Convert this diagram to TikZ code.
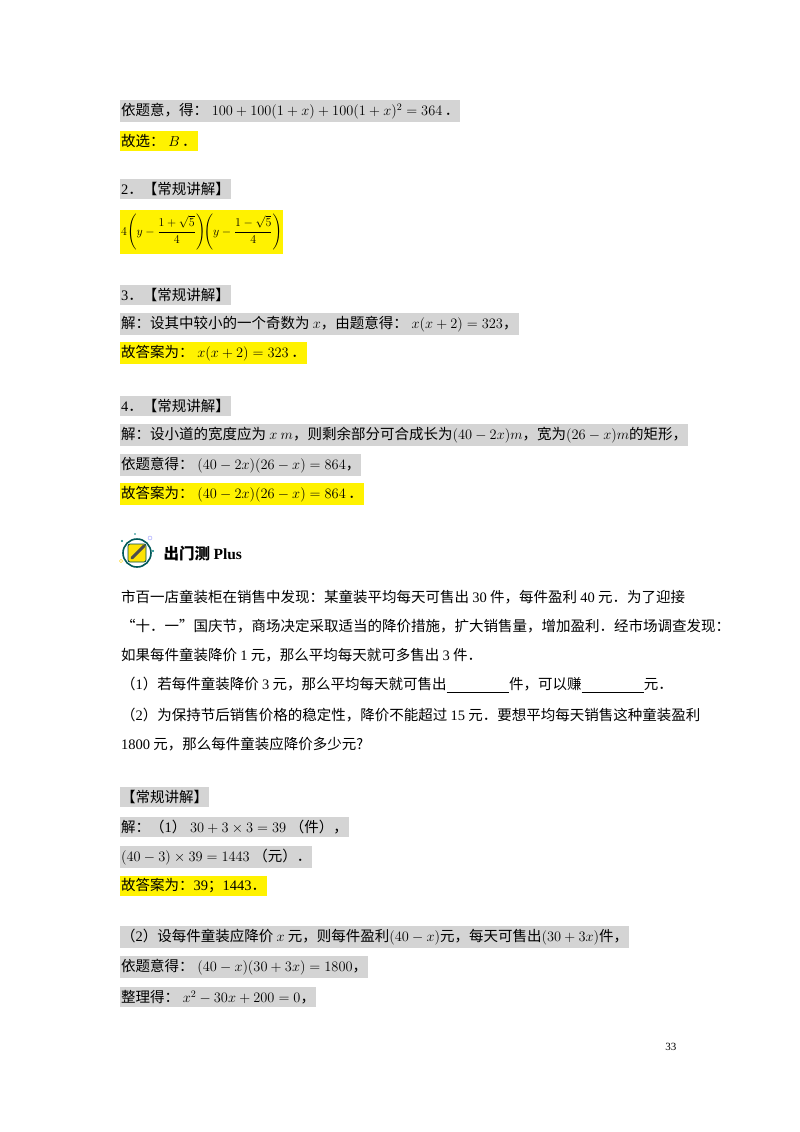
\documentclass[tikz,border=0pt]{standalone}
\usepackage{amsmath}
\usepackage{fontspec}
\usetikzlibrary{calc}
\setmainfont{Noto Sans CJK SC}
\newfontfamily\tm{Liberation Serif}
\newcommand{\n}[1]{{\tm #1}}
\begin{document}
\begin{tikzpicture}[x=1pt,y=-1pt,
  every node/.style={font=\fontsize{14.5}{17}\selectfont},
  tline/.style={anchor=west,inner xsep=1pt,inner ysep=3pt},
  grayb/.style={tline,fill=black!17},
  yelb/.style={tline,fill=yellow}]
\useasboundingbox[fill=white] (0,0) rectangle (800,1132);
\node[grayb] (l1) at (120,111) {依题意，得：\n{ }$100+100(1+x)+100(1+x)^2=364$\,．};
\node[yelb] (l2) at (120,141) {故选：\n{ }$B$\,．};
\node[grayb] (l3) at (120,189) {\n{2}．【常规讲解】};
\node[yelb,inner ysep=4pt,font=\fontsize{12.5}{15}\selectfont] (l4) at (120,232) {$4\!\left(y-\dfrac{1+\sqrt5}{4}\right)\!\!\left(y-\dfrac{1-\sqrt5}{4}\right)$};
\node[grayb] (l5) at (120,295) {\n{3}．【常规讲解】};
\node[grayb] (l6) at (120,324) {解：设其中较小的一个奇数为 $x$，由题意得：\n{ }$x(x+2)=323$，};
\node[yelb] (l7) at (120,353) {故答案为：\n{ }$x(x+2)=323$\,．};
\node[grayb] (l8) at (120,406) {\n{4}．【常规讲解】};
\node[grayb] (l9) at (120,435) {解：设小道的宽度应为 $x\ m$，则剩余部分可合成长为$(40-2x)m$，宽为$(26-x)m$的矩形，};
\node[grayb] (l10) at (120,465) {依题意得：\n{ }$(40-2x)(26-x)=864$，};
\node[yelb] (l11) at (120,494) {故答案为：\n{ }$(40-2x)(26-x)=864$\,．};
% icon
\coordinate (ic) at (137,553);
\draw[teal!70!black,line width=1.6pt] (ic) circle (14);
\draw[fill=yellow!85!orange,draw=teal!60!black,line width=0.8pt,rounded corners=2pt] ($(ic)+(-9,-9)$) rectangle ($(ic)+(9,9)$);
\draw[line width=3pt,black!70,line cap=round] ($(ic)+(-5,5)$) -- ($(ic)+(7,-7)$);
\fill[teal] ($(ic)+(-15,-12)$) circle (1.2) ($(ic)+(16,-2)$) circle (1.2) ($(ic)+(-2,-19)$) circle (0.9);
\draw[blue!40] ($(ic)+(13,-15)$) circle (2);
\draw[yellow!70!orange] ($(ic)+(-16,8)$) circle (1.6);
\node[anchor=west,font=\fontsize{15.5}{18}\selectfont\bfseries] (hd) at (160,554) {出门测 \n{\bfseries Plus}};
\node[tline] (p1) at (120,597) {市百一店童装柜在销售中发现：某童装平均每天可售出 \n{30} 件，每件盈利 \n{40} 元．为了迎接};
\node[tline] (p2) at (120,626) {“十．一”国庆节，商场决定采取适当的降价措施，扩大销售量，增加盈利．经市场调查发现：};
\node[tline] (p3) at (120,655) {如果每件童装降价 \n{1} 元，那么平均每天就可多售出 \n{3} 件．};
\node[tline] (p4) at (120,685) {（\n{1}）若每件童装降价 \n{3} 元，那么平均每天就可售出\underline{\hspace{4.3em}}件，可以赚\underline{\hspace{4.3em}}元．};
\node[tline] (p5) at (120,715) {（\n{2}）为保持节后销售价格的稳定性，降价不能超过 \n{15} 元．要想平均每天销售这种童装盈利};
\node[tline] (p6) at (120,744) {\n{1800} 元，那么每件童装应降价多少元?};
\node[grayb] (s1) at (120,797) {【常规讲解】};
\node[grayb] (s2) at (120,827) {解：（\n{1}）\n{ }$30+3\times3=39$\n{ }（件），};
\node[grayb] (s3) at (120,857) {$(40-3)\times39=1443$\n{ }（元）．};
\node[yelb] (s4) at (120,886) {故答案为：\n{39}；\n{1443}．};
\node[grayb] (s5) at (120,937) {（\n{2}）设每件童装应降价 $x$ 元，则每件盈利$(40-x)$元，每天可售出$(30+3x)$件，};
\node[grayb] (s6) at (120,967) {依题意得：\n{ }$(40-x)(30+3x)=1800$，};
\node[grayb] (s7) at (120,997) {整理得：\n{ }$x^2-30x+200=0$，};
\node[anchor=east,font=\fontsize{11}{13}\selectfont\tm] (pg) at (680,1047) {33};
\end{tikzpicture}
\end{document}
